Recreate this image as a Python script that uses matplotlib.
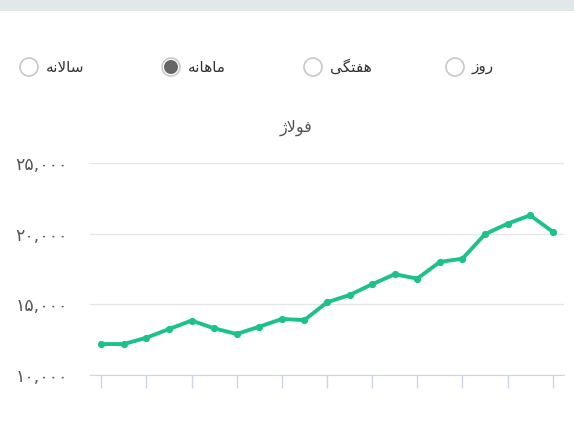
import matplotlib
matplotlib.use('Agg')
import matplotlib.pyplot as plt
from matplotlib.patches import Circle, Rectangle

# ---------------- DATA ----------------
title = "فولاژ"
options = ["سالانه", "ماهانه", "هفتگی", "روز"]
selected = "ماهانه"

prices = [12190, 12190, 12640, 13250, 13850, 13300, 12900, 13420, 13960, 13890,
          15140, 15660, 16420, 17130, 16820, 18000, 18230, 19960, 20710, 21300, 20140]
y_ticks = [10000, 15000, 20000, 25000]


# ---------------- SIMPLE ARABIC SHAPING ----------------
# (isolated, final, initial, medial); None -> letter does not join forward
FORMS = {
    "ا": ("\uFE8D", "\uFE8E", None, None),
    "ت": ("\uFE95", "\uFE96", "\uFE97", "\uFE98"),
    "ر": ("\uFEAD", "\uFEAE", None, None),
    "ز": ("\uFEAF", "\uFEB0", None, None),
    "ژ": ("\uFB8A", "\uFB8B", None, None),
    "س": ("\uFEB1", "\uFEB2", "\uFEB3", "\uFEB4"),
    "ف": ("\uFED1", "\uFED2", "\uFED3", "\uFED4"),
    "ل": ("\uFEDD", "\uFEDE", "\uFEDF", "\uFEE0"),
    "م": ("\uFEE1", "\uFEE2", "\uFEE3", "\uFEE4"),
    "ن": ("\uFEE5", "\uFEE6", "\uFEE7", "\uFEE8"),
    "ه": ("\uFEE9", "\uFEEA", "\uFEEB", "\uFEEC"),
    "و": ("\uFEED", "\uFEEE", None, None),
    "گ": ("\uFB92", "\uFB93", "\uFB94", "\uFB95"),
    "ی": ("\uFBFC", "\uFBFD", "\uFBFE", "\uFBFF"),
    "لا": ("\uFEFB", "\uFEFC", None, None),
}


def shape(word):
    letters = []
    i = 0
    while i < len(word):
        if word[i:i + 2] == "لا":
            letters.append("لا")
            i += 2
        else:
            letters.append(word[i])
            i += 1
    out = []
    for k, ch in enumerate(letters):
        f = FORMS.get(ch)
        if f is None:
            out.append(ch)
            continue
        prev_joins = k > 0 and FORMS.get(letters[k - 1], (0, 0, None))[2] is not None
        next_exists = k < len(letters) - 1 and letters[k + 1] in FORMS
        can_fwd = f[2] is not None
        if prev_joins and next_exists and can_fwd:
            out.append(f[3])
        elif prev_joins:
            out.append(f[1])
        elif next_exists and can_fwd:
            out.append(f[2])
        else:
            out.append(f[0])
    return "".join(reversed(out))


def fa_num(v):
    digits = "۰۱۲۳۴۵۶۷۸۹"
    s = f"{v:,}"
    return "".join(digits[int(c)] if c.isdigit() else c for c in s)


plt.rcParams['font.family'] = ['DejaVu Sans']

W, H = 574, 433
fig = plt.figure(figsize=(W / 100, H / 100), dpi=100)
fig.patch.set_facecolor("white")

# ---------------- HEADER (pixel overlay) ----------------
over = fig.add_axes([0, 0, 1, 1])
over.set_xlim(0, W)
over.set_ylim(H, 0)
over.axis("off")
over.add_patch(Rectangle((0, 0), W, 11, color="#e2e8ea", lw=0))

radio_x = [29, 171, 313, 455]
for x, label in zip(radio_x, options):
    over.add_patch(Circle((x, 67), 9, facecolor="white", edgecolor="#c8c8c8", lw=1.2))
    if label == selected:
        over.add_patch(Circle((x, 67), 7, facecolor="#666666", edgecolor="none"))
    over.text(x + 17, 67, shape(label), fontsize=11, color="#333333",
              ha="left", va="center")

over.text(296, 128, shape(title), fontsize=11.5, color="#555555",
          ha="center", va="center")

# ---------------- CHART ----------------
ax = fig.add_axes([90 / W, 1 - 375 / H, 474 / W, 212 / H])
x = list(range(len(prices)))
ax.plot(x, prices, color="#1cc28a", lw=2.8, marker="o", ms=4.2,
        clip_on=False, zorder=3)

ax.set_xlim(-0.5, len(prices) - 0.5)
ax.set_ylim(10000, 25000)
ax.set_yticks(y_ticks)
ax.set_yticklabels([fa_num(v) for v in y_ticks], fontsize=12.5, color="#555555")
ax.set_xticks(range(0, len(prices), 2))
ax.set_xticklabels([])
ax.tick_params(axis="x", direction="out", length=9.5, width=1, color="#ccd6eb")
ax.tick_params(axis="y", length=0, pad=16)
ax.grid(axis="y", color="#e6e6e6", lw=1)
ax.set_axisbelow(True)
for side in ["top", "right", "left"]:
    ax.spines[side].set_visible(False)
ax.spines["bottom"].set_color("#ccd6eb")
ax.patch.set_alpha(0)

fig.savefig("out.png", dpi=100)
